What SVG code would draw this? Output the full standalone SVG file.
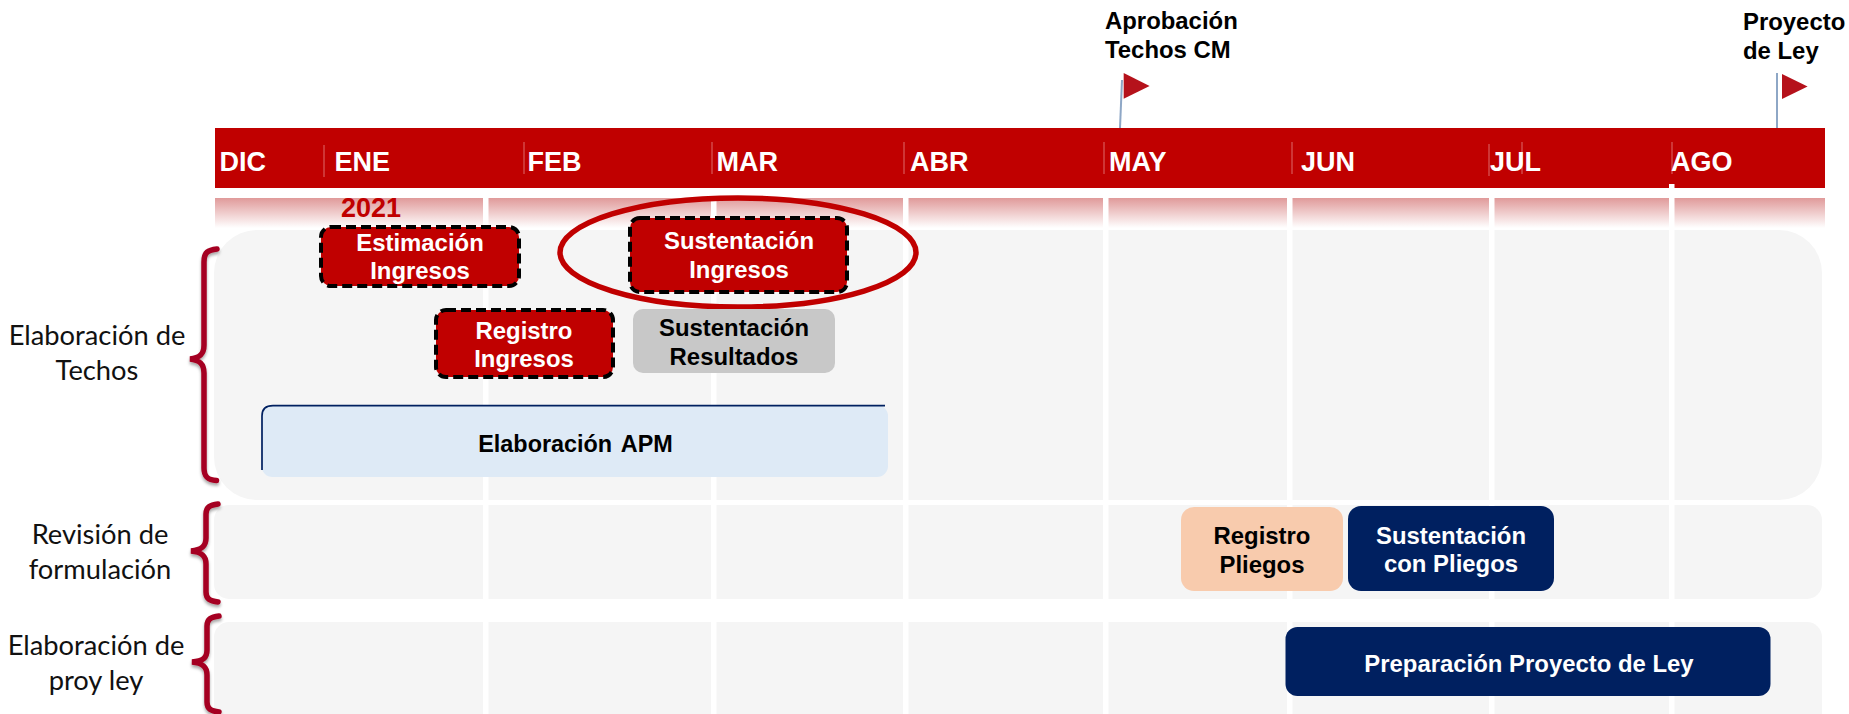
<svg xmlns="http://www.w3.org/2000/svg" width="1849" height="714" viewBox="0 0 1849 714">
<style>
text{font-family:"Liberation Sans",Arial,sans-serif;font-weight:bold;font-size:23.9px;text-anchor:middle}
.m{font-size:27px;fill:#fff;text-anchor:start}
.w{fill:#fff}.k{fill:#000}
.l{font-family:Lato,"Open Sans",sans-serif;font-weight:normal;font-size:27.3px;fill:#111}
.tick{stroke:#dd6a6a;stroke-width:1}
.band{fill:url(#fade)}
.panel{fill:#f5f5f5}
.gap{fill:#fff}
.task{fill:#c00000;stroke:#000;stroke-width:4;stroke-dasharray:10 5}
.brace{fill:none;stroke:#a50021;stroke-width:5.5;stroke-linecap:round;filter:url(#sh)}
.flag{fill:#b5121b}.pole{stroke:#8ea7c6;stroke-width:2;fill:none}
</style>
<defs>
<linearGradient id="fade" x1="0" y1="0" x2="0" y2="1"><stop offset="0" stop-color="#e09a9a"/><stop offset="1" stop-color="#fff"/></linearGradient>
<filter id="sh" x="-50%" y="-10%" width="200%" height="120%"><feDropShadow dx="0" dy="2.5" stdDeviation="1.5" flood-color="#000" flood-opacity=".35"/></filter>
</defs>
<rect width="1849" height="714" fill="#fff"/>
<g id="panels">
<rect class="panel" x="214" y="230" width="1608" height="270" rx="43"/>
<rect class="panel" x="214" y="505" width="1608" height="94" rx="15"/>
<rect class="panel" x="214" y="622" width="1608" height="110" rx="15"/>
</g>
<g id="bands"><rect class="band" x="215" y="198" width="1610" height="30"/></g>
<g id="gaps">
<rect class="gap" x="483" y="198" width="5.5" height="516"/>
<rect class="gap" x="711" y="198" width="5.5" height="516"/>
<rect class="gap" x="903" y="198" width="5.5" height="516"/>
<rect class="gap" x="1103" y="198" width="5.5" height="516"/>
<rect class="gap" x="1287" y="198" width="5.5" height="516"/>
<rect class="gap" x="1489" y="198" width="5.5" height="516"/>
<rect class="gap" x="1669" y="198" width="5.5" height="516"/>
<rect class="gap" x="214" y="228" width="1611" height="2"/>
<rect class="gap" x="214" y="500" width="1611" height="5"/>
<rect class="gap" x="214" y="599" width="1611" height="23"/>
</g>
<g id="header">
<rect x="215" y="128" width="1610" height="60" fill="#c00000"/>
<line class="tick" x1="324" y1="145" x2="324" y2="177"/>
<line class="tick" x1="524" y1="142" x2="524" y2="174"/>
<line class="tick" x1="712" y1="142" x2="712" y2="174"/>
<line class="tick" x1="904" y1="142" x2="904" y2="174"/>
<line class="tick" x1="1104" y1="142" x2="1104" y2="174"/>
<line class="tick" x1="1292" y1="142" x2="1292" y2="174"/>
<line class="tick" x1="1489" y1="144" x2="1489" y2="176"/>
<line class="tick" x1="1522" y1="142" x2="1522" y2="174"/>
<line class="tick" x1="1672" y1="142" x2="1672" y2="174"/>
<rect class="gap" x="1669" y="184" width="5.5" height="4"/>
<text class="m" x="219.500" y="170.500">DIC</text>
<text class="m" x="334.500" y="170.500">ENE</text>
<text class="m" x="527.500" y="170.500">FEB</text>
<text class="m" x="716.500" y="170.500">MAR</text>
<text class="m" x="910" y="170.500">ABR</text>
<text class="m" x="1109" y="170.500">MAY</text>
<text class="m" x="1301" y="170.500">JUN</text>
<text class="m" x="1490" y="170.500">JUL</text>
<text class="m" x="1671" y="170.500">AGO</text>
</g>
<text id="year" class="m" x="341" y="217" style="fill:#c00000">2021</text>
<g id="connectors">
<path class="pole" d="M1122 80L1120 128"/>
<path class="pole" d="M1777 73V128"/>
</g>
<g id="flag-aprobacion">
<path class="flag" d="M1123.700 73V98.700L1149.600 86Z"/>
<text x="1105" y="28.700" style="text-anchor:start">Aprobación</text>
<text x="1105" y="57.500" style="text-anchor:start">Techos CM</text>
</g>
<g id="flag-proyecto">
<path class="flag" d="M1782 74V99L1807.600 86.500Z"/>
<text x="1743" y="30" style="text-anchor:start">Proyecto</text>
<text x="1743" y="58.700" style="text-anchor:start">de Ley</text>
</g>
<g id="estimacion-ingresos">
<rect class="task" x="321" y="227" width="198" height="59" rx="10"/>
<text class="w" x="420" y="250.500">Estimación</text><text class="w" x="420" y="279">Ingresos</text>
</g>
<g id="registro-ingresos">
<rect class="task" x="436" y="310" width="177" height="67" rx="10"/>
<text class="w" x="524" y="339">Registro</text><text class="w" x="524" y="367">Ingresos</text>
</g>
<g id="sustentacion-ingresos">
<rect class="task" x="630" y="218" width="217" height="74" rx="10"/>
<text class="w" x="739" y="249">Sustentación</text><text class="w" x="739" y="278">Ingresos</text>
</g>
<ellipse id="highlight" cx="738" cy="252.500" rx="178" ry="54.500" fill="none" stroke="#c00000" stroke-width="5.500"/>
<g id="sustentacion-resultados">
<rect x="633" y="309" width="202" height="64" rx="10" fill="#c8c8c8"/>
<text class="k" x="734" y="336">Sustentación</text><text class="k" x="734" y="365">Resultados</text>
</g>
<g id="elaboracion-apm">
<rect x="261.500" y="405" width="626.500" height="72" rx="11" fill="#deeaf6"/>
<path d="M262 470V416Q262 405.700 273 405.700H885" fill="none" stroke="#002060" stroke-width="1.700"/>
<text class="k" x="575.500" y="451.500" style="font-size:23.4px;word-spacing:3px">Elaboración APM</text>
</g>
<g id="registro-pliegos">
<rect x="1181" y="507" width="162" height="84" rx="13" fill="#f8cbad"/>
<text class="k" x="1262" y="544">Registro</text><text class="k" x="1262" y="573">Pliegos</text>
</g>
<g id="sustentacion-pliegos">
<rect x="1348" y="506" width="206" height="85" rx="13" fill="#002060"/>
<text class="w" x="1451" y="544">Sustentación</text><text class="w" x="1451" y="572">con Pliegos</text>
</g>
<g id="preparacion-ley">
<rect x="1285.500" y="627" width="485" height="69" rx="12" fill="#002060"/>
<text class="w" x="1529" y="671.500">Preparación Proyecto de Ley</text>
</g>
<g id="group-techos">
<path class="brace" d="M217 249C208 250 204 252 204 262V345C204 354 200 358 190 359C200 360 204 364 204 373V468C204 477 208 480 216.500 480.500"/>
<text class="l" x="97" y="345">Elaboración de</text><text class="l" x="97" y="380">Techos</text>
</g>
<g id="group-revision">
<path class="brace" d="M218 504C210 505 206 507 206 514V538C206 546 202 550 191 551C202 552 206 556 206 564V592C206 599 210 601 218 602"/>
<text class="l" x="100" y="544">Revisión de</text><text class="l" x="100" y="579">formulación</text>
</g>
<g id="group-ley">
<path class="brace" d="M219 616C211 617 207 619 207 626V650C207 658 203 661 192 662C203 663 207 667 207 675V702C207 709 211 711 219 712"/>
<text class="l" x="96" y="655">Elaboración de</text><text class="l" x="96" y="690">proy ley</text>
</g>
</svg>
